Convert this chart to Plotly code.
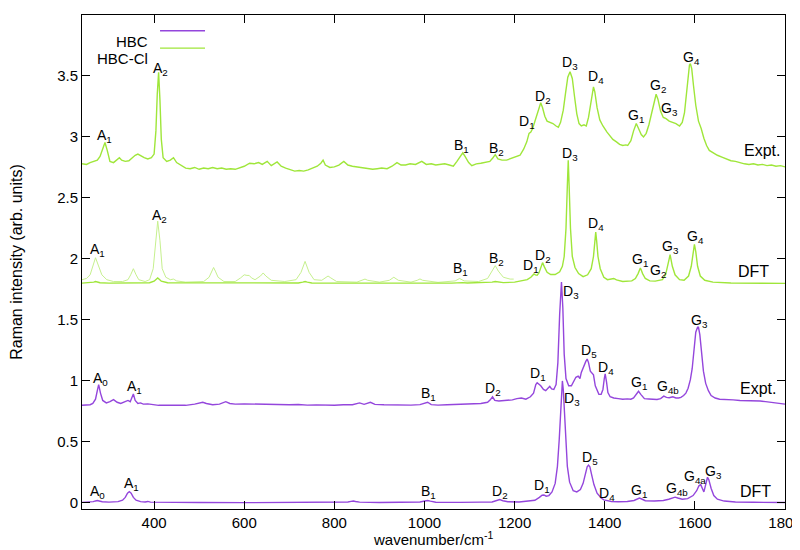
import plotly.graph_objects as go

# ---------------------------------------------------------------------------
# Spectra (wavenumber / cm^-1, offset intensity)
# ---------------------------------------------------------------------------

# HBC-Cl, experiment (top trace)
clexp_x = [240, 250, 258, 266, 274, 280, 286, 291, 296, 302, 310, 318, 323, 328, 336, 344, 352, 358, 364, 370,
           378, 386, 394, 400, 404, 407, 410, 413, 416, 420, 428, 436, 443, 450, 460, 470, 480, 490, 500, 510,
           520, 530, 540, 550, 560, 570, 580, 590, 600, 612, 622, 632, 640, 651, 660, 673, 682, 692, 702, 712,
           722, 732, 742, 752, 762, 770, 775, 780, 790, 800, 810, 821, 830, 840, 850, 860, 873, 885, 895, 905,
           917, 928, 939, 948, 958, 968, 980, 994, 1004, 1015, 1025, 1035, 1045, 1055, 1064, 1072, 1080, 1085,
           1090, 1098, 1105, 1115, 1125, 1135, 1145, 1152, 1157, 1163, 1172, 1182, 1192, 1202, 1212, 1220, 1227,
           1232, 1236, 1240, 1245, 1250, 1255, 1258, 1262, 1267, 1272, 1278, 1285, 1292, 1297, 1302, 1308, 1313,
           1318, 1323, 1328, 1333, 1338, 1343, 1348, 1354, 1359, 1364, 1369, 1373, 1375, 1378, 1383, 1389, 1396,
           1405, 1412, 1418, 1426, 1433, 1440, 1447, 1451, 1458, 1464, 1470, 1475, 1481, 1486, 1492, 1498, 1504,
           1510, 1514, 1518, 1524, 1530, 1536, 1543, 1551, 1558, 1566, 1572, 1577, 1581, 1585, 1588, 1590, 1593,
           1597, 1602, 1608, 1614, 1620, 1626, 1632, 1640, 1650, 1660, 1669, 1680, 1690, 1698, 1710, 1720, 1730,
           1740, 1750, 1760, 1770, 1780, 1790, 1800]
clexp_y = [2.78, 2.775, 2.79, 2.80, 2.81, 2.84, 2.91, 2.955, 2.89, 2.80, 2.79, 2.82, 2.83, 2.81, 2.80, 2.805,
           2.83, 2.85, 2.86, 2.845, 2.83, 2.82, 2.83, 2.86, 3.05, 3.35, 3.53, 3.30, 2.98, 2.83, 2.80, 2.81, 2.83,
           2.79, 2.77, 2.745, 2.74, 2.75, 2.735, 2.745, 2.74, 2.75, 2.74, 2.745, 2.735, 2.74, 2.735, 2.745, 2.76,
           2.785, 2.78, 2.79, 2.775, 2.80, 2.765, 2.795, 2.76, 2.745, 2.735, 2.72, 2.725, 2.72, 2.73, 2.745,
           2.76, 2.785, 2.81, 2.77, 2.75, 2.755, 2.77, 2.80, 2.77, 2.76, 2.755, 2.75, 2.74, 2.735, 2.74, 2.745,
           2.74, 2.76, 2.79, 2.77, 2.77, 2.78, 2.775, 2.80, 2.775, 2.78, 2.77, 2.775, 2.78, 2.77, 2.76, 2.80,
           2.85, 2.87, 2.84, 2.79, 2.765, 2.78, 2.785, 2.79, 2.80, 2.83, 2.855, 2.82, 2.81, 2.81, 2.825, 2.835,
           2.85, 2.90, 2.96, 3.03, 3.04, 3.07, 3.13, 3.20, 3.26, 3.28, 3.24, 3.17, 3.13, 3.12, 3.11, 3.09, 3.08,
           3.12, 3.22, 3.36, 3.49, 3.535, 3.48, 3.33, 3.19, 3.11, 3.09, 3.10, 3.09, 3.16, 3.29, 3.39, 3.41, 3.37,
           3.24, 3.14, 3.09, 3.04, 3.01, 2.98, 2.96, 2.94, 2.93, 2.935, 2.93, 2.97, 3.05, 3.11, 3.07, 3.02, 3.00,
           3.03, 3.10, 3.20, 3.31, 3.35, 3.31, 3.21, 3.16, 3.15, 3.13, 3.12, 3.11, 3.09, 3.12, 3.20, 3.33, 3.50,
           3.59, 3.60, 3.56, 3.42, 3.26, 3.13, 3.07, 2.99, 2.93, 2.89, 2.87, 2.85, 2.835, 2.82, 2.805, 2.80,
           2.79, 2.78, 2.775, 2.78, 2.77, 2.775, 2.765, 2.77, 2.76, 2.765, 2.755]

# HBC-Cl, DFT (low-frequency part shown enlarged, thin line)
cldft_zoom_x = [240, 250, 258, 264, 270, 276, 284, 295, 310, 330, 342, 348, 354, 360, 366, 380, 390, 398, 403,
                408, 413, 418, 426, 436, 443, 450, 470, 510, 522, 528, 532, 536, 542, 555, 580, 592, 600, 606,
                611, 616, 624, 636, 642, 648, 660, 690, 715, 726, 735, 744, 755, 772, 780, 786, 792, 805, 850,
                862, 868, 874, 900, 922, 932, 942, 970, 984, 990, 996, 1030, 1068, 1078, 1088, 1120, 1140, 1150,
                1157, 1164, 1175, 1190, 1198]
cldft_zoom_y = [1.83, 1.84, 1.87, 1.95, 2.01, 1.95, 1.87, 1.83, 1.815, 1.815, 1.83, 1.87, 1.92, 1.87, 1.83,
                1.815, 1.83, 1.92, 2.15, 2.31, 2.15, 1.92, 1.85, 1.83, 1.835, 1.82, 1.81, 1.815, 1.85, 1.90,
                1.93, 1.90, 1.85, 1.815, 1.815, 1.845, 1.87, 1.865, 1.865, 1.845, 1.83, 1.86, 1.885, 1.86,
                1.825, 1.815, 1.83, 1.89, 1.98, 1.89, 1.83, 1.825, 1.845, 1.86, 1.845, 1.815, 1.81, 1.825,
                1.835, 1.825, 1.81, 1.825, 1.85, 1.825, 1.81, 1.825, 1.836, 1.825, 1.808, 1.82, 1.84, 1.82,
                1.815, 1.84, 1.90, 1.945, 1.90, 1.85, 1.835, 1.835]

# HBC-Cl, DFT (full spectrum)
cldft_x = [240, 260, 266, 270, 274, 280, 300, 390, 400, 404, 408, 412, 416, 430, 720, 730, 735, 740, 750, 1060,
           1072, 1078, 1084, 1095, 1140, 1150, 1157, 1164, 1175, 1200, 1215, 1228, 1236, 1240, 1243, 1246, 1250,
           1254, 1258, 1262, 1266, 1272, 1280, 1290, 1300, 1306, 1310, 1314, 1317, 1319, 1321, 1324, 1328, 1334,
           1342, 1352, 1362, 1370, 1375, 1378, 1380, 1382, 1385, 1390, 1398, 1406, 1414, 1420, 1426, 1440, 1460,
           1468, 1474, 1477, 1479, 1481, 1484, 1490, 1500, 1512, 1521, 1528, 1535, 1540, 1543, 1545, 1547, 1550,
           1556, 1566, 1576, 1586, 1592, 1596, 1599, 1602, 1606, 1612, 1622, 1640, 1680, 1800]
cldft_y = [1.802, 1.805, 1.810, 1.815, 1.810, 1.805, 1.802, 1.805, 1.818, 1.832, 1.845, 1.832, 1.818, 1.805,
           1.803, 1.810, 1.815, 1.810, 1.803, 1.802, 1.806, 1.810, 1.806, 1.803, 1.805, 1.810, 1.815, 1.810,
           1.806, 1.810, 1.818, 1.830, 1.850, 1.868, 1.877, 1.870, 1.866, 1.885, 1.935, 1.970, 1.935, 1.890,
           1.872, 1.872, 1.895, 1.94, 2.02, 2.25, 2.60, 2.81, 2.60, 2.25, 2.02, 1.93, 1.88, 1.855, 1.87, 1.92,
           2.02, 2.15, 2.22, 2.15, 2.02, 1.92, 1.85, 1.83, 1.835, 1.84, 1.828, 1.815, 1.82, 1.84, 1.88, 1.91,
           1.925, 1.91, 1.88, 1.84, 1.82, 1.818, 1.825, 1.83, 1.87, 1.94, 2.00, 2.035, 2.00, 1.94, 1.87, 1.83,
           1.825, 1.86, 1.94, 2.06, 2.12, 2.06, 1.94, 1.86, 1.825, 1.81, 1.803, 1.800]

# HBC, experiment
hbcexp_x = [240, 250, 258, 264, 270, 274, 277, 281, 286, 294, 302, 310, 318, 326, 334, 342, 347, 351, 354, 358,
            364, 370, 376, 386, 396, 410, 430, 450, 470, 490, 500, 508, 516, 530, 545, 559, 568, 580, 600, 620,
            640, 660, 680, 700, 720, 740, 760, 780, 800, 820, 840, 856, 866, 880, 890, 910, 930, 950, 970, 990,
            1007, 1015, 1030, 1050, 1070, 1090, 1110, 1125, 1140, 1146, 1151, 1156, 1165, 1180, 1195, 1205, 1215,
            1225, 1235, 1242, 1247, 1250, 1254, 1258, 1264, 1269, 1274, 1278, 1282, 1287, 1292, 1296, 1300, 1304,
            1307, 1310, 1314, 1320, 1326, 1331, 1336, 1341, 1345, 1348, 1353, 1358, 1361, 1364, 1368, 1372, 1375,
            1379, 1383, 1387, 1392, 1396, 1399, 1401, 1404, 1407, 1412, 1420, 1430, 1440, 1450, 1458, 1464, 1470,
            1475, 1480, 1488, 1498, 1507, 1516, 1524, 1531, 1537, 1543, 1551, 1558, 1564, 1569, 1575, 1580, 1585,
            1590, 1594, 1598, 1602, 1606, 1608, 1611, 1615, 1619, 1624, 1630, 1636, 1645, 1655, 1669, 1685, 1700,
            1715, 1730, 1745, 1757, 1770, 1785, 1800]
hbcexp_y = [0.80, 0.80, 0.805, 0.815, 0.85, 0.92, 0.97, 0.90, 0.84, 0.82, 0.83, 0.847, 0.825, 0.815, 0.825,
            0.84, 0.83, 0.86, 0.893, 0.84, 0.815, 0.82, 0.81, 0.812, 0.805, 0.80, 0.802, 0.803, 0.80, 0.81, 0.82,
            0.825, 0.815, 0.805, 0.81, 0.83, 0.815, 0.81, 0.812, 0.81, 0.808, 0.81, 0.805, 0.805, 0.807, 0.802,
            0.804, 0.80, 0.80, 0.805, 0.805, 0.82, 0.808, 0.825, 0.808, 0.805, 0.803, 0.805, 0.802, 0.806, 0.825,
            0.806, 0.802, 0.805, 0.807, 0.808, 0.81, 0.815, 0.825, 0.845, 0.87, 0.84, 0.835, 0.84, 0.845, 0.855,
            0.86, 0.85, 0.87, 0.90, 0.97, 0.985, 0.975, 0.96, 0.93, 0.92, 0.94, 0.955, 0.935, 0.93, 0.97, 1.15,
            1.55, 1.81, 1.60, 1.22, 1.02, 0.96, 0.96, 0.99, 1.03, 1.04, 1.02, 1.07, 1.12, 1.16, 1.18, 1.15, 1.08,
            1.06, 1.05, 0.96, 0.92, 0.89, 0.89, 0.93, 1.02, 1.057, 0.99, 0.905, 0.87, 0.86, 0.855, 0.85, 0.853,
            0.85, 0.86, 0.895, 0.915, 0.89, 0.855, 0.852, 0.85, 0.848, 0.855, 0.875, 0.865, 0.862, 0.87, 0.86,
            0.86, 0.865, 0.88, 0.90, 0.94, 1.01, 1.10, 1.26, 1.40, 1.44, 1.44, 1.38, 1.22, 1.08, 0.98, 0.92, 0.88,
            0.86, 0.85, 0.85, 0.845, 0.84, 0.84, 0.835, 0.835, 0.83, 0.825, 0.815, 0.81]

# HBC, DFT
hbcdft_x = [240, 255, 265, 270, 274, 278, 285, 300, 320, 330, 336, 341, 345, 349, 354, 360, 370, 380, 386, 392,
            420, 500, 600, 700, 800, 830, 837, 842, 847, 856, 900, 960, 990, 1001, 1007, 1013, 1025, 1080, 1110,
            1118, 1126, 1150, 1160, 1167, 1174, 1185, 1210, 1223, 1232, 1245, 1255, 1261, 1265, 1270, 1276, 1283,
            1290, 1295, 1299, 1302, 1304, 1306, 1308, 1310, 1313, 1317, 1322, 1330, 1338, 1346, 1352, 1357, 1361,
            1364, 1367, 1371, 1376, 1383, 1392, 1398, 1401, 1405, 1415, 1430, 1450, 1465, 1472, 1477, 1482, 1490,
            1510, 1530, 1542, 1550, 1556, 1562, 1572, 1584, 1596, 1604, 1609, 1613, 1616, 1620, 1624, 1628, 1631,
            1636, 1642, 1650, 1665, 1690, 1730, 1800]
hbcdft_y = [0.004, 0.006, 0.01, 0.016, 0.02, 0.016, 0.009, 0.006, 0.01, 0.022, 0.045, 0.08, 0.093, 0.08, 0.045,
            0.022, 0.01, 0.008, 0.012, 0.006, 0.004, 0.003, 0.002, 0.002, 0.003, 0.008, 0.013, 0.016, 0.012,
            0.006, 0.003, 0.003, 0.007, 0.016, 0.02, 0.014, 0.005, 0.004, 0.007, 0.011, 0.006, 0.008, 0.018,
            0.027, 0.018, 0.01, 0.008, 0.012, 0.012, 0.022, 0.045, 0.063, 0.065, 0.055, 0.06, 0.09, 0.16, 0.30,
            0.52, 0.78, 0.93, 1.00, 0.93, 0.78, 0.52, 0.30, 0.17, 0.10, 0.09, 0.11, 0.16, 0.23, 0.295, 0.31,
            0.295, 0.23, 0.15, 0.08, 0.04, 0.025, 0.022, 0.02, 0.012, 0.01, 0.012, 0.02, 0.033, 0.04, 0.032,
            0.018, 0.015, 0.02, 0.03, 0.042, 0.047, 0.04, 0.03, 0.035, 0.06, 0.10, 0.14, 0.15, 0.12, 0.09,
            0.15, 0.21, 0.19, 0.12, 0.06, 0.03, 0.015, 0.008, 0.005, 0.003]

# Peak / trace labels: (text, wavenumber, intensity)
labels_clexp = [("A<sub>1</sub>", 290, 3.01), ("A<sub>2</sub>", 415, 3.56), ("B<sub>1</sub>", 1083, 2.93),
                ("B<sub>2</sub>", 1159, 2.90), ("D<sub>1</sub>", 1228, 3.125), ("D<sub>2</sub>", 1262, 3.33),
                ("D<sub>3</sub>", 1322, 3.61), ("D<sub>4</sub>", 1380, 3.49), ("G<sub>1</sub>", 1470, 3.175),
                ("G<sub>2</sub>", 1518, 3.42), ("G<sub>3</sub>", 1544, 3.23), ("G<sub>4</sub>", 1592, 3.65)]
labels_cldft = [("A<sub>1</sub>", 274, 2.07), ("A<sub>2</sub>", 412, 2.355), ("B<sub>1</sub>", 1079, 1.92),
                ("B<sub>2</sub>", 1160, 2.00), ("D<sub>1</sub>", 1236, 1.945), ("D<sub>2</sub>", 1262, 2.027),
                ("D<sub>3</sub>", 1322, 2.86), ("D<sub>4</sub>", 1380, 2.29), ("G<sub>1</sub>", 1479, 1.99),
                ("G<sub>2</sub>", 1519, 1.905), ("G<sub>3</sub>", 1547, 2.095), ("G<sub>4</sub>", 1601, 2.18)]
labels_hbcexp = [("A<sub>0</sub>", 281, 1.016), ("A<sub>1</sub>", 357, 0.948), ("B<sub>1</sub>", 1009, 0.893),
                 ("D<sub>2</sub>", 1151, 0.934), ("D<sub>1</sub>", 1251, 1.057), ("D<sub>3</sub>", 1326, 1.727),
                 ("D<sub>5</sub>", 1365, 1.248), ("D<sub>4</sub>", 1403, 1.107), ("G<sub>1</sub>", 1475, 0.98),
                 ("G<sub>4b</sub>", 1540, 0.948), ("G<sub>3</sub>", 1610, 1.494)]
labels_hbcdft = [("A<sub>0</sub>", 275, 0.088), ("A<sub>1</sub>", 349, 0.156), ("B<sub>1</sub>", 1009, 0.088),
                 ("D<sub>2</sub>", 1167, 0.088), ("D<sub>1</sub>", 1261, 0.142), ("D<sub>3</sub>", 1328, 0.85),
                 ("D<sub>5</sub>", 1368, 0.37), ("D<sub>4</sub>", 1406, 0.074), ("G<sub>1</sub>", 1477, 0.10),
                 ("G<sub>4b</sub>", 1560, 0.115), ("G<sub>4a</sub>", 1600, 0.21), ("G<sub>3</sub>", 1642, 0.25)]
labels_kind = [("Expt.", 1750, 2.89), ("DFT", 1731, 1.90), ("Expt.", 1739, 0.94), ("DFT", 1735, 0.093)]

PURPLE = "#9446dc"
GREEN = "#9fe63a"
GREEN_LIGHT = "#c6f08e"
FONT = "Liberation Sans, Arial, sans-serif"

fig = go.Figure()
fig.add_trace(go.Scatter(x=hbcdft_x, y=hbcdft_y, mode="lines", line=dict(color=PURPLE, width=1.4), showlegend=False))
fig.add_trace(go.Scatter(x=hbcexp_x, y=hbcexp_y, mode="lines", line=dict(color=PURPLE, width=1.4), showlegend=False))
fig.add_trace(go.Scatter(x=cldft_zoom_x, y=cldft_zoom_y, mode="lines", line=dict(color=GREEN_LIGHT, width=1),
                         showlegend=False))
fig.add_trace(go.Scatter(x=cldft_x, y=cldft_y, mode="lines", line=dict(color=GREEN, width=1.4), showlegend=False))
fig.add_trace(go.Scatter(x=clexp_x, y=clexp_y, mode="lines", line=dict(color=GREEN, width=1.4), showlegend=False))

annotations = []
for text, x, y in labels_clexp + labels_cldft + labels_hbcexp + labels_hbcdft:
    annotations.append(dict(x=x, y=y, text=text, showarrow=False, font=dict(size=14, color="black")))
for text, x, y in labels_kind:
    annotations.append(dict(x=x, y=y, text=text, showarrow=False, font=dict(size=16, color="black")))

# legend drawn gnuplot style: text on the left, line sample on the right
for name, color, ypap in [("HBC", PURPLE, 0.968), ("HBC-Cl", GREEN, 0.933)]:
    annotations.append(dict(x=0.097, y=ypap, xref="paper", yref="paper", text=name, showarrow=False,
                            xanchor="right", font=dict(size=15, color="black")))
    fig.add_shape(type="line", xref="paper", yref="paper", x0=0.111, x1=0.175, y0=ypap, y1=ypap,
                  line=dict(color=color, width=1.4))

# x axis title placed just under the tick labels
annotations.append(dict(x=0.5, y=-0.06, xref="paper", yref="paper", text="wavenumber/cm<sup>-1</sup>",
                        showarrow=False, yanchor="middle", font=dict(size=15, color="black")))

axis_style = dict(showline=True, linecolor="black", linewidth=1, mirror="ticks", ticks="inside",
                  ticklen=8, tickcolor="black", showgrid=False, zeroline=False,
                  tickfont=dict(size=15, color="black"))

fig.update_layout(
    width=800,
    height=550,
    margin=dict(l=74, r=21, t=6, b=49),
    paper_bgcolor="white",
    plot_bgcolor="white",
    font=dict(family=FONT, color="black"),
    annotations=annotations,
    xaxis=dict(range=[240, 1800], dtick=200, tick0=0, **axis_style),
    yaxis=dict(range=[-0.05, 4], dtick=0.5, tick0=0,
               title=dict(text="Raman intensity (arb. units)", font=dict(size=16), standoff=30), **axis_style),
)

fig.write_html("out.html")
